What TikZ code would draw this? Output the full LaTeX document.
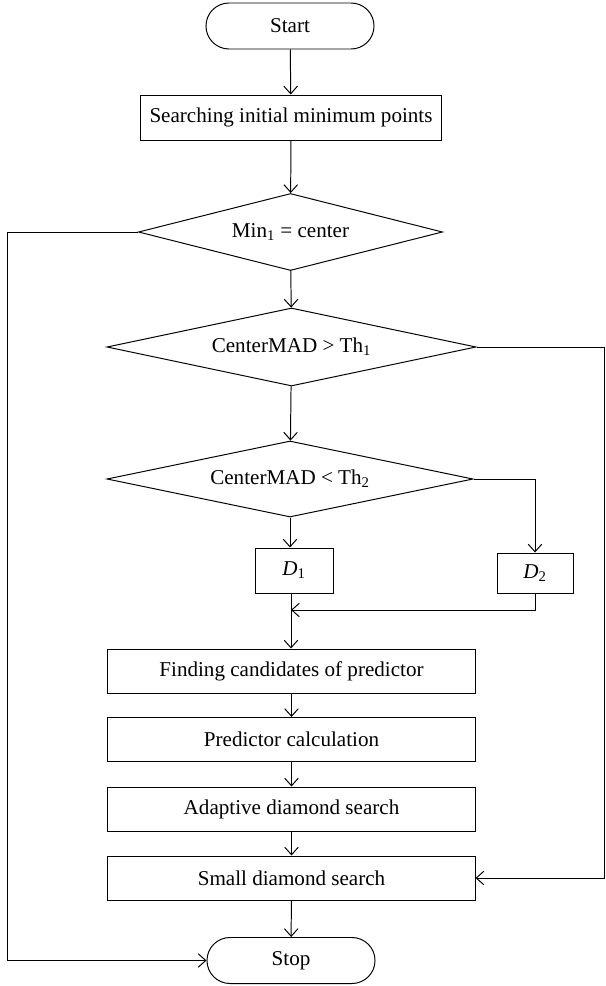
\documentclass[tikz,border=0pt]{standalone}
\usepackage{fontspec}
\setmainfont{Liberation Serif}
\usetikzlibrary{shapes.geometric,shapes.misc,arrows.meta}

\tikzset{
  terminal/.style={draw, rounded rectangle, minimum width=4.2cm, minimum height=1.15cm, inner sep=0pt},
  process/.style={draw, rectangle, minimum width=9.175cm, minimum height=1.1cm, inner sep=0pt},
  decision/.style={draw, diamond, shape aspect=4, minimum width=7.6cm, minimum height=1.925cm, inner sep=0pt},
  arr/.style={-{Straight Barb[length=1.9mm,width=3.4mm]}},
}

\begin{document}
\begin{tikzpicture}[x=0.025cm, y=-0.025cm, line width=0.7pt, font=\fontsize{15}{17}\selectfont]
\useasboundingbox (0,0) rectangle (605,986);

\node[terminal] (start) at (290,26) {Start};
\node[process, minimum width=7.5cm, minimum height=1.125cm] (search) at (291,117.5) {Searching initial minimum points};
\node[decision] (dia1) at (290.5,232) {Min\textsubscript{1} = center};
\node[decision, minimum width=9.225cm, minimum height=1.95cm] (dia2) at (291.5,347) {CenterMAD > Th\textsubscript{1}};
\node[decision, minimum width=9.15cm, minimum height=1.9cm] (dia3) at (290,479) {CenterMAD < Th\textsubscript{2}};
\node[draw, minimum width=1.95cm, minimum height=1.125cm, inner sep=0pt] (d1) at (294,570.5) {\textit{D}\textsubscript{1}};
\node[draw, minimum width=1.9cm, minimum height=1cm, inner sep=0pt] (d2) at (535,573) {\textit{D}\textsubscript{2}};
\node[process] (find) at (291.5,671) {Finding candidates of predictor};
\node[process] (pred) at (291.5,739.5) {Predictor calculation};
\node[process] (adap) at (291.5,809) {Adaptive diamond search};
\node[process] (small) at (291.5,878) {Small diamond search};
\node[terminal] (stop) at (291,960.5) {Stop};

\coordinate (leftrail) at (7,232);
\coordinate (rightrail) at (604.5,347);
\coordinate (join) at (291,610);

\draw[arr] (start) -- (search);
\draw[arr] (search) -- (dia1);
\draw[arr] (dia1) -- (dia2);
\draw[arr] (dia2) -- (dia3);
\draw[arr] (dia3.south) -- (dia3.south |- d1.north);
\draw[arr] (dia3.east) -| (d2.north);
\draw[arr] (join |- d1.south) -- (join |- find.north);
\draw[arr] (d2.south) |- (join);
\draw[arr] (find) -- (pred);
\draw[arr] (pred) -- (adap);
\draw[arr] (adap) -- (small);
\draw[arr] (small) -- (stop);
\draw[arr] (dia1.west) -- (leftrail) |- (stop.west);
\draw[arr] (dia2.east) -- (rightrail) |- (small.east);
\end{tikzpicture}
\end{document}
